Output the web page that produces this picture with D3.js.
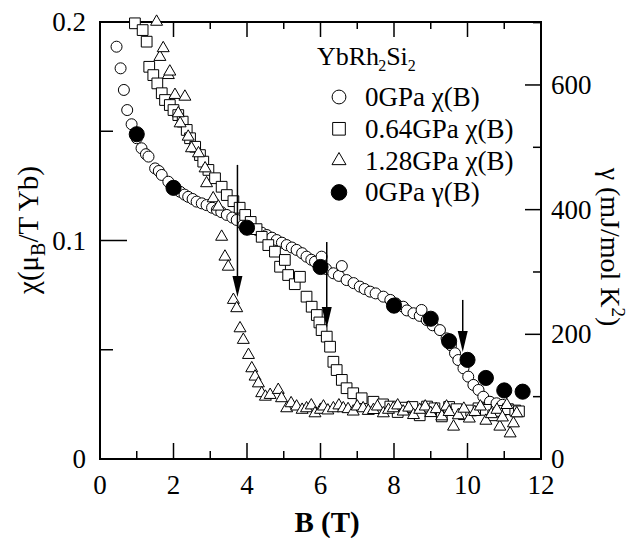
<!DOCTYPE html>
<html>
  <head>
    <meta charset="utf-8" />
    <title>YbRh2Si2 chi(B) and gamma(B)</title>
    <script src="https://d3js.org/d3.v7.min.js"></script>
    <style>
      body { margin: 0; background: #fff; }
    </style>
  </head>
  <body>
    <svg width="639" height="538"></svg>

    <script>
      // 0 GPa chi(B), open circles
      const chi0B = [0.45,0.56,0.65,0.74,0.86,1.0,1.13,1.25,1.32,1.5,1.6,1.68,1.86,2.02,2.18,2.3,2.4,2.52,2.63,2.77,2.9,3.05,3.18,3.3,3.45,3.6,3.72,3.9,4.08,4.27,4.4,4.54,4.68,4.81,4.95,5.08,5.22,5.35,5.5,5.62,5.75,5.85,6.0,6.03,6.15,6.35,6.5,6.58,6.71,6.9,7.07,7.2,7.35,7.5,7.71,7.9,8.05,8.25,8.35,8.53,8.7,8.75,8.89,9.05,9.25,9.43,9.55,9.66,9.75,9.89,10.02,10.16,10.3,10.43,10.61,10.79,10.95];
      const chi0 = [.1887,.1788,.1689,.1597,.1532,.1468,.1422,.1395,.1384,.1330,.1318,.1300,.1269,.1245,.1223,.1210,.1200,.1190,.1178,.1170,.1162,.1150,.1140,.1130,.1117,.1105,.1094,.1071,.1060,.1048,.1036,.1025,.1013,.1002,.0990,.0979,.0968,.0957,.0942,.0926,.0912,.0903,.0888,.0926,.0870,.0850,.0838,.0883,.0819,.0805,.0789,.0778,.0766,.0758,.0743,.0728,.0712,.0697,.0680,.0667,.0655,.0682,.0636,.0612,.0590,.0552,.0520,.0484,.0453,.0415,.0377,.0339,.0316,.0285,.0262,.0255,.0248];

      // 0.64 GPa chi(B), open squares
      const chi064B = [0.95,1.16,1.27,1.34,1.45,1.56,1.68,1.77,1.9,2.0,2.13,2.25,2.36,2.45,2.59,2.72,2.81,2.95,3.13,3.31,3.45,3.63,3.8,3.95,4.1,4.26,4.4,4.58,4.76,4.9,5.03,5.12,5.3,5.44,5.62,5.76,5.9,5.97,6.03,6.17,6.26,6.35,6.44,6.58,6.71,6.89,7.12,7.44,7.7,7.9,8.1,8.3,8.5,8.7,8.9,9.1,9.3,9.5,9.7,9.9,10.1,10.3,10.5,10.7,10.9,11.1,11.3,11.4];
      const chi064 = [.1994,.1963,.1910,.1795,.1757,.1719,.1674,.1643,.1620,.1597,.1574,.1544,.1506,.1468,.1429,.1391,.1361,.1323,.1285,.1246,.1208,.1180,.1150,.1117,.1085,.1052,.1017,.0979,.0949,.0880,.0911,.0842,.0800,.0834,.0743,.0697,.0659,.0625,.0590,.0560,.0514,.0445,.0407,.0362,.0324,.0301,.0278,.0262,.0250,.0240,.0215,.0235,.0238,.0200,.0240,.0232,.0195,.0238,.0228,.0205,.0222,.0232,.0225,.0200,.0220,.0228,.0222,.0218];

      // 1.28 GPa chi(B), open triangles
      const chi128B = [1.54,1.63,1.72,1.86,1.9,2.04,2.13,2.18,2.31,2.4,2.49,2.68,2.86,2.9,3.08,3.22,3.31,3.4,3.49,3.63,3.72,3.81,3.9,4.04,4.13,4.22,4.31,4.4,4.5,4.63,4.85,4.94,5.08,5.2,5.35,5.5,5.62,5.75,5.85,6.0,6.08,6.2,6.35,6.5,6.62,6.75,6.89,7.0,7.16,7.3,7.44,7.55,7.71,7.85,7.98,8.1,8.25,8.4,8.53,8.7,8.85,9.0,9.15,9.3,9.43,9.5,9.62,9.75,9.9,10.05,10.2,10.35,10.5,10.65,10.8,10.88,10.95,11.07,11.16,11.25,11.34];
      const chi128 = [.2001,.1840,.1880,.1757,.1773,.1666,.1582,.1536,.1658,.1475,.1422,.1399,.1330,.1262,.1193,.1155,.1017,.0926,.0880,.0728,.0690,.0598,.0545,.0476,.0415,.0377,.0346,.0301,.0285,.0293,.0316,.0278,.0232,.0255,.0240,.0225,.0232,.0245,.0209,.0225,.0240,.0222,.0232,.0245,.0232,.0228,.0217,.0240,.0232,.0220,.0224,.0240,.0209,.0225,.0232,.0245,.0217,.0235,.0201,.0225,.0240,.0210,.0228,.0195,.0240,.0215,.0148,.0200,.0230,.0185,.0215,.0240,.0175,.0205,.0225,.0148,.0190,.0247,.0117,.0163,.0209];

      // 0 GPa gamma(B), filled circles (right axis)
      const gammaB = [1, 2, 4, 6, 8, 9, 9.5, 10, 10.5, 11, 11.5];
      const gamma = [521, 435, 371, 308, 246, 225, 189, 159, 130, 110, 108];

      // arrows marking the transitions
      const arrowB = [3.74, 6.17, 9.87];
      const arrowTop = [0.1346, 0.0993, 0.0728];
      const arrowTip = [0.0741, 0.0600, 0.0490];

      const xTicks = [0, 2, 4, 6, 8, 10, 12];
      const xMinor = [1, 3, 5, 7, 9, 11];
      const yTicks = [0, 0.1, 0.2];
      const yMinor = [0.05, 0.15];
      const gTicks = [0, 200, 400, 600];
      const gMinor = [100, 300, 500, 700];

      const legendLabels = ["0GPa \u03c7(B)", "0.64GPa \u03c7(B)", "1.28GPa \u03c7(B)", "0GPa \u03b3(B)"];

      const svg = d3.select("svg");
      const pl = 100, pr = 541, pt = 22, pb = 459;
      const serif = "Liberation Serif";

      const x = d3.scaleLinear().domain([0, 12]).range([pl, pr]);
      const y = d3.scaleLinear().domain([0, 0.2]).range([pb, pt]);
      const yG = d3.scaleLinear().domain([0, 701]).range([pb, pt]);

      // ticks (inward)
      const tk = svg.append("g").attr("stroke", "#000").attr("stroke-width", 1.5);
      function vt(vals, len, yy, dir) {
        tk.selectAll(null).data(vals).enter().append("line")
          .attr("x1", d => x(d)).attr("x2", d => x(d))
          .attr("y1", yy).attr("y2", yy + dir * len);
      }
      function ht(vals, sc, len, xx, dir) {
        tk.selectAll(null).data(vals).enter().append("line")
          .attr("y1", d => sc(d)).attr("y2", d => sc(d))
          .attr("x1", xx).attr("x2", xx + dir * len);
      }
      vt(xTicks, 16, pb, -1);
      vt(xMinor, 8, pb, -1);
      vt(xTicks, 15, pt, 1);
      vt(xMinor, 7, pt, 1);
      ht(yTicks, y, 27, pl, 1);
      ht(yMinor, y, 13, pl, 1);
      ht(gTicks, yG, 16, pr, -1);
      ht(gMinor, yG, 8, pr, -1);

      svg.append("rect")
        .attr("x", pl).attr("y", pt)
        .attr("width", pr - pl).attr("height", pb - pt)
        .attr("fill", "none").attr("stroke", "#000").attr("stroke-width", 2);

      // tick labels
      const lab = svg.append("g").style("font-family", serif).style("font-size", "27px");
      lab.selectAll(null).data(xTicks).enter().append("text")
        .attr("x", d => x(d)).attr("y", 494)
        .attr("text-anchor", "middle")
        .text(d => d);
      lab.selectAll(null).data(yTicks).enter().append("text")
        .attr("x", 86).attr("y", d => y(d) + 9)
        .attr("text-anchor", "end")
        .text(d => d);
      lab.selectAll(null).data(gTicks).enter().append("text")
        .attr("x", 551).attr("y", d => yG(d) + 9)
        .attr("text-anchor", "start")
        .text(d => d);

      // axis titles
      svg.append("text")
        .attr("x", 327).attr("y", 532)
        .attr("text-anchor", "middle")
        .style("font-family", serif)
        .style("font-size", "29px").style("font-weight", "bold")
        .text("B (T)");

      const yl = svg.append("text")
        .attr("transform", "translate(38,230) rotate(-90)")
        .attr("text-anchor", "middle")
        .style("font-family", serif)
        .style("font-size", "29px");
      yl.append("tspan").text("\u03c7(\u03bc");
      yl.append("tspan").attr("dy", 7).style("font-size", "20px").text("B");
      yl.append("tspan").attr("dy", -7).text("/T Yb)");

      const yr = svg.append("text")
        .attr("transform", "translate(601,247) rotate(90)")
        .attr("text-anchor", "middle")
        .style("font-family", serif)
        .style("font-size", "28px");
      yr.append("tspan").text("\u03b3 (mJ/mol K");
      yr.append("tspan").attr("dy", -11).style("font-size", "19px").text("2");
      yr.append("tspan").attr("dy", 11).text(")");

      // data
      const pts = svg.append("g");
      function series(bs, vs, sc, type, size, fill) {
        pts.append("g").selectAll("path")
          .data(bs.map((b, i) => [b, vs[i]]))
          .enter().append("path")
          .attr("transform", d => `translate(${x(d[0])},${sc(d[1])})`)
          .attr("d", d3.symbol().type(type).size(size))
          .attr("fill", fill).attr("stroke", "#000").attr("stroke-width", 1);
      }
      series(chi0B, chi0, y, d3.symbolCircle, 95, "#fff");
      series(chi064B, chi064, y, d3.symbolSquare, 115, "#fff");
      series(chi128B, chi128, y, d3.symbolTriangle, 62, "#fff");
      series(gammaB, gamma, yG, d3.symbolCircle, 180, "#000");

      // arrows
      const ar = svg.append("g");
      arrowB.forEach((b, i) => {
        const ax = x(b), y0 = y(arrowTop[i]), y1 = y(arrowTip[i]);
        ar.append("line").attr("x1", ax).attr("x2", ax)
          .attr("y1", y0).attr("y2", y1 - 8)
          .attr("stroke", "#000").attr("stroke-width", 1.5);
        ar.append("path")
          .attr("d", `M${ax - 5},${y1 - 21}L${ax + 5},${y1 - 21}L${ax},${y1}Z`)
          .attr("fill", "#000");
      });

      // legend
      const title = svg.append("text").attr("x", 317).attr("y", 65)
        .style("font-family", serif).style("font-size", "26px");
      title.append("tspan").text("YbRh");
      title.append("tspan").attr("dy", 6).attr("dx", -1).style("font-size", "16px").text("2");
      title.append("tspan").attr("dy", -6).text("Si");
      title.append("tspan").attr("dy", 6).style("font-size", "16px").text("2");

      const lgTypes = [d3.symbolCircle, d3.symbolSquare, d3.symbolTriangle, d3.symbolCircle];
      const lgSizes = [150, 160, 85, 190];
      const lgFills = ["#fff", "#fff", "#fff", "#000"];
      const lg = svg.append("g").selectAll("g").data(legendLabels).enter().append("g")
        .attr("transform", (d, i) => `translate(339,${97 + i * 31.8})`);
      lg.append("path")
        .attr("d", (d, i) => d3.symbol().type(lgTypes[i]).size(lgSizes[i])())
        .attr("fill", (d, i) => lgFills[i])
        .attr("stroke", "#000").attr("stroke-width", 1);
      lg.append("text").attr("x", 26).attr("y", 9)
        .style("font-family", serif).style("font-size", "27px").text(d => d);
    </script>
  </body>
</html>
